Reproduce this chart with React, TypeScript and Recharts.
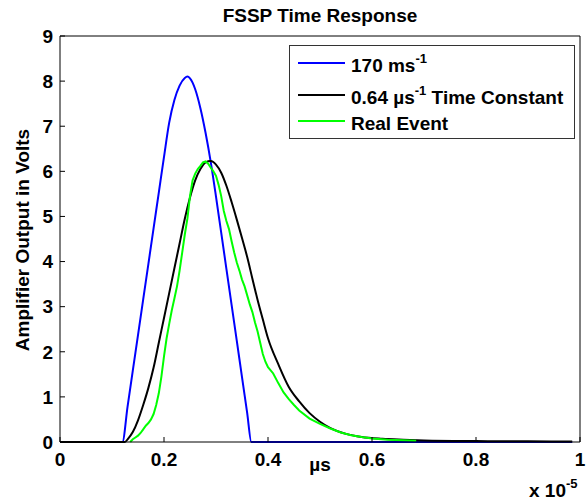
import { Line, LineChart, XAxis, YAxis } from "recharts";

// time axis is in units of 1e-5 (MATLAB "x 10^-5" multiplier)
const xTicks = [0, 0.2, 0.4, 0.6, 0.8, 1];
const yTicks = [0, 1, 2, 3, 4, 5, 6, 7, 8, 9];

// 170 ms^-1 (blue)
const fastTime = [0, 0.12, 0.13, 0.14, 0.15, 0.16, 0.17, 0.18, 0.19, 0.2, 0.21, 0.22, 0.23, 0.24, 0.245, 0.25, 0.26, 0.27, 0.28, 0.29, 0.3, 0.31, 0.32, 0.33, 0.34, 0.35, 0.36, 0.368, 0.985];
const fastVolts = [0, 0, 0.79, 1.58, 2.37, 3.16, 3.95, 4.74, 5.53, 6.32, 7.08, 7.58, 7.9, 8.07, 8.1, 8.06, 7.82, 7.4, 6.85, 6.2, 5.44, 4.64, 3.84, 3.04, 2.24, 1.44, 0.64, 0, 0];

// 0.64 µs^-1 time constant (black)
const slowTime = [0, 0.12, 0.125, 0.13, 0.14, 0.15, 0.16, 0.17, 0.18, 0.19, 0.2, 0.21, 0.22, 0.23, 0.24, 0.25, 0.26, 0.27, 0.28, 0.29, 0.3, 0.31, 0.32, 0.33, 0.34, 0.35, 0.36, 0.37, 0.38, 0.39, 0.4, 0.42, 0.44, 0.46, 0.48, 0.5, 0.52, 0.55, 0.58, 0.62, 0.66, 0.7, 0.8, 0.9, 0.985];
const slowVolts = [0, 0, 0, 0.06, 0.22, 0.48, 0.82, 1.2, 1.65, 2.2, 2.75, 3.3, 3.85, 4.4, 4.95, 5.42, 5.8, 6.05, 6.2, 6.23, 6.15, 5.97, 5.68, 5.32, 4.93, 4.52, 4.1, 3.62, 3.15, 2.72, 2.3, 1.72, 1.22, 0.9, 0.64, 0.45, 0.31, 0.18, 0.11, 0.07, 0.05, 0.035, 0.02, 0.015, 0.01];

// measured event (green)
const eventTime = [0.135, 0.14, 0.145, 0.15, 0.155, 0.16, 0.165, 0.17, 0.175, 0.18, 0.185, 0.19, 0.195, 0.2, 0.205, 0.21, 0.215, 0.22, 0.225, 0.23, 0.235, 0.24, 0.245, 0.25, 0.255, 0.26, 0.265, 0.27, 0.275, 0.28, 0.285, 0.29, 0.295, 0.3, 0.305, 0.31, 0.315, 0.32, 0.325, 0.33, 0.335, 0.34, 0.345, 0.35, 0.355, 0.36, 0.365, 0.37, 0.375, 0.38, 0.385, 0.39, 0.395, 0.4, 0.41, 0.42, 0.43, 0.44, 0.45, 0.46, 0.48, 0.5, 0.52, 0.54, 0.56, 0.58, 0.6, 0.63, 0.66, 0.685];
const eventVolts = [0, 0.06, 0.1, 0.14, 0.2, 0.28, 0.36, 0.42, 0.5, 0.62, 0.82, 1.08, 1.45, 1.9, 2.3, 2.62, 2.92, 3.18, 3.45, 3.8, 4.2, 4.6, 4.95, 5.45, 5.8, 5.95, 6.05, 6.12, 6.2, 6.22, 6.17, 6.08, 6.0, 5.9, 5.7, 5.45, 5.12, 4.9, 4.72, 4.45, 4.2, 3.98, 3.8, 3.6, 3.45, 3.25, 3.05, 2.88, 2.65, 2.45, 2.2, 1.95, 1.78, 1.66, 1.52, 1.3, 1.1, 0.95, 0.82, 0.7, 0.52, 0.4, 0.3, 0.21, 0.15, 0.11, 0.08, 0.05, 0.04, 0.03];

const colors = ["#0000ff", "#000000", "#00ff00"];
const curveTypes = ["monotone", "monotone", "linear"] as const;
const legendLabels = [
  { base: "170 ms", sup: "-1", rest: "" },
  { base: "0.64 \u00b5s", sup: "-1", rest: " Time Constant" },
  { base: "Real Event", sup: "", rest: "" },
];

const toPoints = (t: number[], v: number[]) => t.map((x, i) => ({ t: x, v: v[i] }));

const font = "'Liberation Sans', Arial, Helvetica, sans-serif";
const tickStyle = { fontSize: 19, fontWeight: "bold", fill: "#000", fontFamily: font };

export default function App() {
  const series = [toPoints(fastTime, fastVolts), toPoints(slowTime, slowVolts), toPoints(eventTime, eventVolts)];
  const legendLineY = [63, 95, 121];
  const legendBaseY = [72, 104, 130];

  return (
    <div style={{ position: "absolute", left: 0, top: 0, width: 587, height: 500, background: "#fff", fontFamily: font }}>
      <LineChart width={587} height={500} margin={{ top: 35, right: 6, bottom: 28, left: 0 }}>
        <XAxis
          dataKey="t"
          type="number"
          domain={[0, 1]}
          ticks={xTicks}
          allowDataOverflow
          tickFormatter={(v) => String(v)}
          tick={tickStyle}
          tickSize={-5}
          tickMargin={16}
          stroke="#000"
          height={30}
        />
        <XAxis xAxisId="top" orientation="top" dataKey="t" type="number" domain={[0, 1]} ticks={xTicks} tick={false} tickSize={-5} height={1} stroke="#000" />
        <YAxis type="number" domain={[0, 9]} ticks={yTicks} tick={tickStyle} tickSize={-5} tickMargin={12} width={60} stroke="#000" />
        <YAxis yAxisId="right" orientation="right" type="number" domain={[0, 9]} ticks={yTicks} tick={false} tickSize={-5} width={1} stroke="#000" />
        {series.map((d, i) => (
          <Line key={i} data={d} dataKey="v" type={curveTypes[i]} stroke={colors[i]} strokeWidth={2} dot={false} isAnimationActive={false} />
        ))}
      </LineChart>
      <svg width={587} height={500} style={{ position: "absolute", left: 0, top: 0, pointerEvents: "none" }} fontFamily={font} fontWeight="bold">
        <text x={320} y={22} fontSize={19} textAnchor="middle">FSSP Time Response</text>
        <text x={320} y={471} fontSize={19} textAnchor="middle">{"\u00b5s"}</text>
        <text x={529} y={497} fontSize={19}>
          x 10<tspan fontSize={13} dy={-9}>-5</tspan>
        </text>
        <text x={29} y={240} fontSize={19} textAnchor="middle" transform="rotate(-90 29 240)">Amplifier Output in Volts</text>
        <rect x={289.5} y={45.5} width={285} height={93} fill="#fff" stroke="#333" />
        {legendLabels.map((l, i) => (
          <g key={i}>
            <line x1={298} x2={345} y1={legendLineY[i]} y2={legendLineY[i]} stroke={colors[i]} strokeWidth={2} />
            <text x={351} y={legendBaseY[i]} fontSize={19}>
              {l.base}
              {l.sup && <tspan fontSize={13} dy={-9}>{l.sup}</tspan>}
              {l.rest && <tspan dy={9}>{l.rest}</tspan>}
            </text>
          </g>
        ))}
      </svg>
    </div>
  );
}
